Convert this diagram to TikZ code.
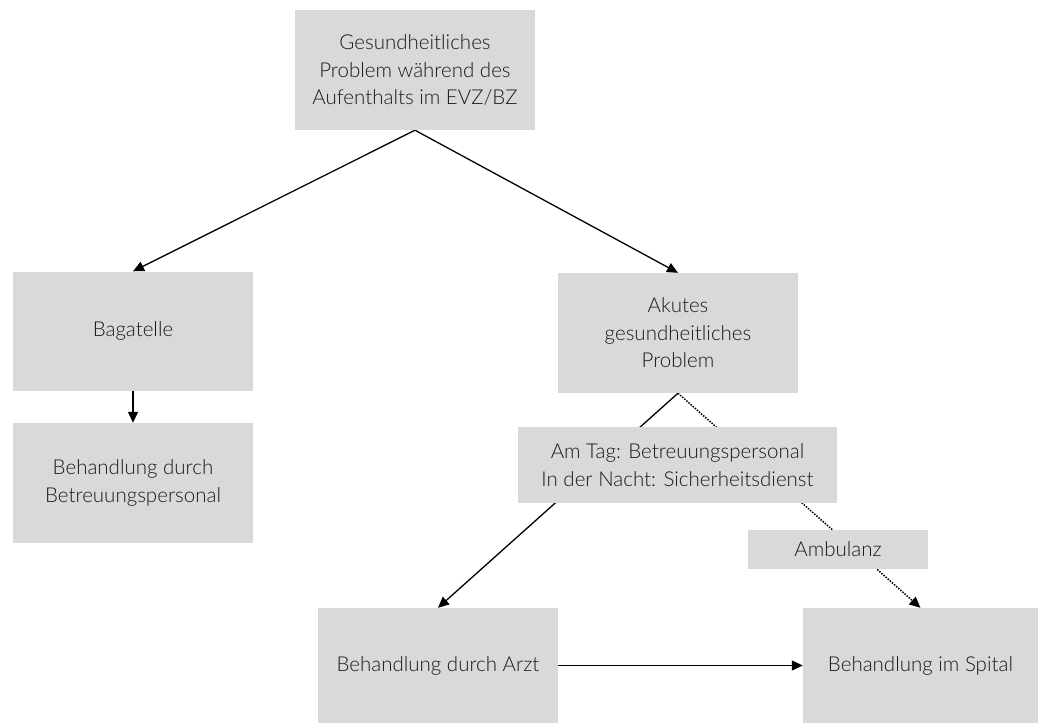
\documentclass[tikz,border=0pt]{standalone}
\usepackage{fontspec}
\setmainfont{Lato}[UprightFont=* Light]
\usetikzlibrary{arrows.meta}
\pgfdeclarelayer{background}
\pgfsetlayers{background,main}
\definecolor{boxgray}{HTML}{D9D9D9}
\definecolor{txt}{HTML}{1A1A1A}
\tikzset{
  box/.style={fill=boxgray, draw=none, text=txt, align=center, inner sep=0pt,
    font=\fontsize{20.5}{27.5}\selectfont},
  conn/.style={line width=1.3pt, -{Triangle[length=11pt,width=10pt]}},
  dotconn/.style={line width=1.5pt, dash pattern=on 1.5pt off 1.3pt, -{Triangle[length=11pt,width=10pt]}}
}
\begin{document}
\begin{tikzpicture}[x=1pt,y=-1pt]
\useasboundingbox (0,0) rectangle (1038,724);
\node[box, minimum width=240pt, minimum height=120pt] (top) at (415,70) {Gesundheitliches\\Problem während des\\Aufenthalts im EVZ/BZ};
\node[box, minimum width=240pt, minimum height=119pt] (bag) at (133,331) {Bagatelle};
\node[box, minimum width=240pt, minimum height=120pt] (beh) at (133,483) {Behandlung durch\\Betreuungspersonal};
\node[box, minimum width=240pt, minimum height=120pt] (akut) at (678,333) {Akutes\\gesundheitliches\\Problem};
\node[box, minimum width=319pt, minimum height=76pt] (amtag) at (677.5,465) {Am Tag: Betreuungspersonal\\In der Nacht: Sicherheitsdienst};
\node[box, minimum width=180pt, minimum height=39pt] (amb) at (838,549.5) {Ambulanz};
\node[box, minimum width=240pt, minimum height=115pt] (arzt) at (438,665.5) {Behandlung durch Arzt};
\node[box, minimum width=235pt, minimum height=115pt] (spital) at (920.5,665.5) {Behandlung im Spital};
\begin{pgfonlayer}{background}
\draw[conn] (top.south) -- (bag.north);
\draw[conn] (top.south) -- (akut.north);
\draw[conn] (bag.south) -- (beh.north);
\draw[conn] (akut.south) -- (arzt.north);
\draw[dotconn] (akut.south) -- (spital.north);
\draw[conn] (arzt.east) -- (spital.west);
\end{pgfonlayer}
\end{tikzpicture}
\end{document}
